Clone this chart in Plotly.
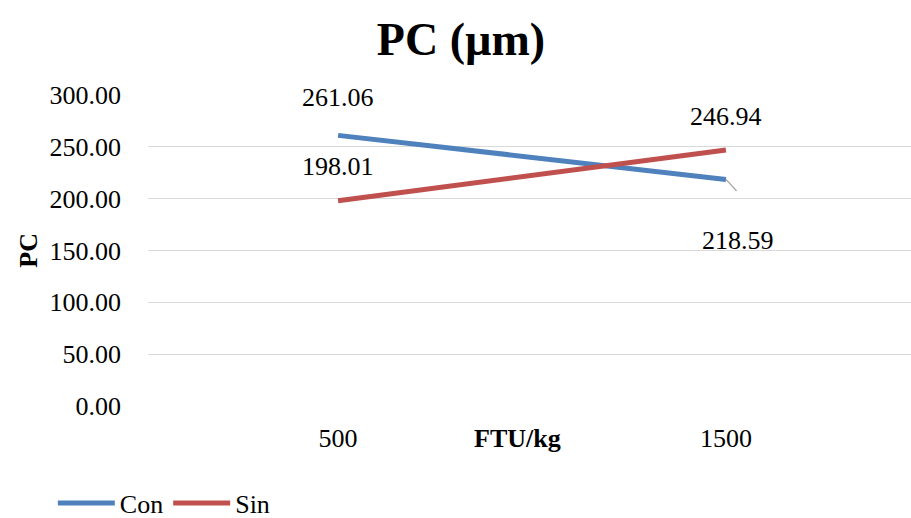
import plotly.graph_objects as go

categories = ["500", "1500"]
con_values = [261.06, 218.59]
sin_values = [198.01, 246.94]
y_ticks = [0, 50, 100, 150, 200, 250, 300]
y_tick_labels = ["0.00", "50.00", "100.00", "150.00", "200.00", "250.00", "300.00"]

FONT = "Liberation Serif, Times New Roman, serif"
BLUE = "#4F81BD"
RED = "#C0504D"
FS = 26

fig = go.Figure()
fig.add_trace(go.Scatter(x=categories, y=con_values, mode="lines", name="Con",
                         line=dict(color=BLUE, width=5)))
fig.add_trace(go.Scatter(x=categories, y=sin_values, mode="lines", name="Sin",
                         line=dict(color=RED, width=5)))

# data labels (x given as category index)
lab = dict(font=dict(family=FONT, size=FS, color="#000"), showarrow=False, xref="x", yref="y")
fig.add_annotation(x=0, y=con_values[0], text=f"{con_values[0]:.2f}", yshift=38, **lab)
fig.add_annotation(x=0, y=sin_values[0], text=f"{sin_values[0]:.2f}", yshift=34, **lab)
fig.add_annotation(x=1, y=sin_values[1], text=f"{sin_values[1]:.2f}", yshift=34, **lab)
fig.add_annotation(x=1, y=con_values[1], text=f"{con_values[1]:.2f}", yshift=-61, xshift=12, **lab)
# leader line
fig.add_annotation(x=1, y=con_values[1], xref="x", yref="y", text="",
                   showarrow=True, arrowhead=0, arrowwidth=1.4, arrowcolor="#A6A6A6",
                   ax=12, ay=13)

fig.add_annotation(text="<b>FTU/kg</b>", xref="paper", yref="paper", x=0.484, y=-0.106,
                   yanchor="middle", showarrow=False,
                   font=dict(family=FONT, size=FS, color="#000"))
fig.add_annotation(text="<b>PC</b>", xref="paper", yref="paper", x=-0.157, y=0.5,
                   textangle=-90, showarrow=False, xanchor="center", yanchor="middle",
                   font=dict(family=FONT, size=FS, color="#000"))

fig.update_layout(
    width=911, height=518,
    margin=dict(l=148, r=0, t=95, b=112),
    paper_bgcolor="white", plot_bgcolor="white",
    title=dict(text="<b>PC (µm)</b>", x=0.506, xref="container", xanchor="center",
               y=0.925, yanchor="middle", yref="container",
               font=dict(family=FONT, size=46, color="#000")),
    font=dict(family=FONT, color="#000"),
    showlegend=True,
    legend=dict(orientation="h", xref="container", yref="container", x=0.058, y=0.029,
                xanchor="left", yanchor="middle",
                font=dict(family=FONT, size=FS, color="#000"),
                itemwidth=57, tracegroupgap=0),
    xaxis=dict(type="category", range=[-0.49, 1.477], showgrid=False, zeroline=False,
               showline=False, ticks="", ticklabelstandoff=14,
               tickfont=dict(family=FONT, size=FS, color="#000")),
    yaxis=dict(range=[0, 300], tickvals=y_ticks, ticktext=y_tick_labels,
               showgrid=True, gridcolor="#D9D9D9", gridwidth=1.3, zeroline=False,
               showline=False, ticks="", ticklabelstandoff=26,
               tickfont=dict(family=FONT, size=FS, color="#000")),
)

fig.write_html("out.html")
